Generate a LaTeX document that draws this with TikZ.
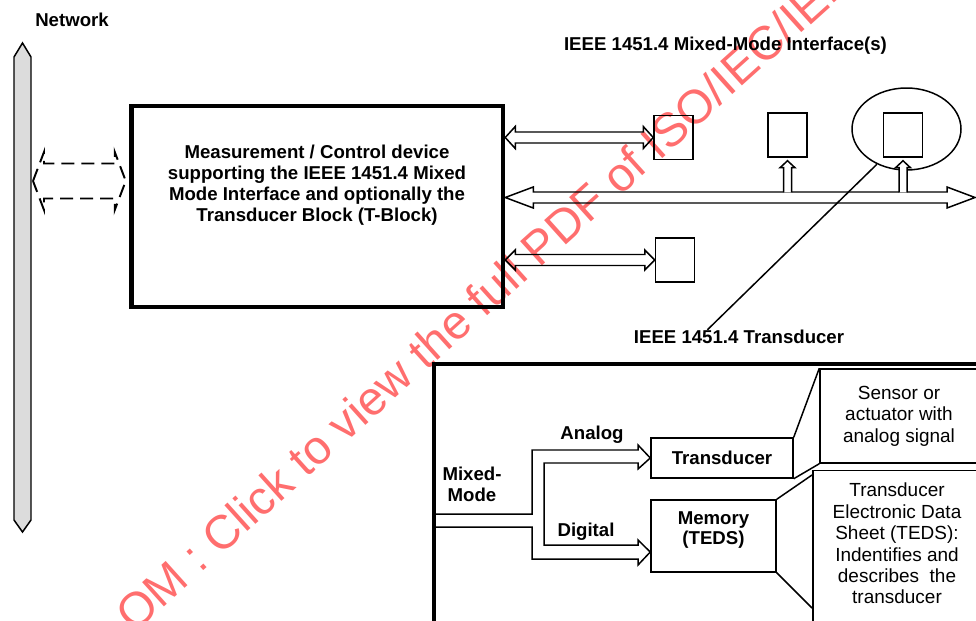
\documentclass[tikz,border=0pt]{standalone}
\usepackage{fontspec}
\setmainfont{Liberation Sans}
\usepackage{tikz}
\usetikzlibrary{
  calc,
  shapes.geometric
}
\definecolor{netgray}{RGB}{220, 220, 220}
\definecolor{wmred}{RGB}{255, 110, 110}

\newcommand{\hollowlink}[6][]{%
  \draw[hollow,#1] (#2) -- ($(#2)+(#6,-#5)$) -- ($(#2)+(#6,-#4)$)
    -- ($(#3)+(-#6,-#4)$) -- ($(#3)+(-#6,-#5)$) -- (#3)
    -- ($(#3)+(-#6,#5)$) -- ($(#3)+(-#6,#4)$)
    -- ($(#2)+(#6,#4)$) -- ($(#2)+(#6,#5)$) -- cycle;}
\newcommand{\hollowup}[6][]{%
  \draw[hollow,#1] ($(#2)+(-#4,0)$) -- ($(#3)+(-#4,#6)$) -- ($(#3)+(-#5,#6)$)
    -- (#3) -- ($(#3)+(#5,#6)$) -- ($(#3)+(#4,#6)$) -- ($(#2)+(#4,0)$);}

\begin{document}
\begin{tikzpicture}[
  x=0.02cm, y=-0.02cm,
  wire/.style={line width=0.85pt},
  hollow/.style={wire, fill=white, line join=miter},
  devbox/.style={
    draw, line width=2.6pt,
    minimum width=7.43cm, minimum height=4.02cm
  },
  smallbox/.style={
    draw, wire, inner sep=0pt,
    minimum width=0.78cm, minimum height=0.88cm
  },
  blockbox/.style={
    draw, wire, inner sep=0pt, align=center,
    font=\bfseries\fontsize{10.6}{11.9}\selectfont
  },
  notebox/.style={draw, wire, inner sep=0pt},
  lbl/.style={
    font=\bfseries\fontsize{10.6}{11.9}\selectfont,
    align=center, inner sep=0pt
  },
  note/.style={
    font=\fontsize{10.8}{12.2}\selectfont,
    align=center, inner sep=0pt
  },
  wmark/.style={font=\fontsize{27}{27}\selectfont, text=wmred, inner sep=0pt}
]
\useasboundingbox (0,0) rectangle (976,621);

\node[lbl] (nettitle) at (72,20) {Network};
\draw[wire, fill=netgray] (14,57) -- (22.5,43) -- (31,57) -- (31,520)
  -- (22.5,532) -- (14,520) -- cycle;
\coordinate (netport) at (33,181);

\node[devbox] (dev) at (317.25,206.5) {};
\node[lbl] (devtext) at (317,185) {%
  Measurement / Control device\\
  supporting the IEEE 1451.4 Mixed\\
  Mode Interface and optionally the\\
  Transducer Block (T-Block)};

\coordinate (devport) at ($(dev.west |- netport)+(-3.5,0)$);
\hollowlink[fill=none, line width=1.1pt, dash pattern=on 0.26cm off 0.14cm]{netport}{devport}{17.5}{29}{11}

\node[lbl] (mmtitle) at (725.5,46) {IEEE 1451.4 Mixed-Mode Interface(s)};

\node[smallbox] (m1) at (673.5,137.5) {};
\node[smallbox] (m2) at (787.5,135) {};
\node[smallbox] (m3) at (675,260) {};
\node[smallbox] (m4) at (903,135) {};
\node[draw, wire, ellipse, minimum width=2.18cm, minimum height=1.64cm] (ring) at (906.5,129) {};

\coordinate (d1) at (dev.east |- m1.west);
\coordinate (d3) at (dev.east |- m3.west);
\hollowlink{d1}{m1.west}{5.5}{11}{10}
\hollowlink{d3}{m3.west}{5.5}{10}{10}

\coordinate (bus) at (975,197.5);
\coordinate (busstart) at (dev.east |- bus);
\hollowlink{busstart}{bus}{5.5}{10.5}{28}

\coordinate (u2foot) at ($(m2.south |- bus)+(0,-5)$);
\coordinate (u2tip) at ($(m2.south)+(0,3)$);
\coordinate (u4foot) at ($(m4.south |- bus)+(0,-5)$);
\coordinate (u4tip) at ($(m4.south)+(0,3)$);
\hollowup{u2foot}{u2tip}{4}{7.5}{7}
\hollowup{u4foot}{u4tip}{4}{7.5}{7}

\node[lbl] (tlabel) at (739,337) {IEEE 1451.4 Transducer};
\draw[wire] (ring.230) -- ($(tlabel.north)!0.3!(tlabel.north west)$);

\node[blockbox, minimum width=2.84cm, minimum height=0.8cm] (trans) at (722,458) {Transducer};
\node[blockbox, minimum width=2.5cm, minimum height=1.44cm] (mem) at (713.5,536) {};
\node[lbl] (memtext) at ($(mem)+(0,-6)$) {Memory\\(TEDS)};
\node[notebox, note, minimum width=3.16cm, minimum height=1.88cm] (sensor) at (899,416) {%
  Sensor or\\actuator with\\analog signal};
\node[notebox, minimum width=3.32cm, minimum height=3.4cm, anchor=north west] (teds) at (812,470) {};
\node[note] (tedstext) at (897,543.5) {%
  Transducer\\Electronic Data\\Sheet (TEDS):\\Indentifies and\\describes\ \ the\\transducer};

\draw[wire] (trans.north east) -- (sensor.north west);
\draw[wire] (trans.south east) -- (sensor.south west);
\coordinate (tedstop) at ($(teds.north west)+(0,5)$);
\coordinate (tedsfoot) at ($(teds.north west)+(0,138)$);
\draw[wire] (mem.north east) -- (tedstop);
\draw[wire] (mem.south east) -- (tedsfoot);

\coordinate (digtip) at ($(mem.west)+(0,16)$);
\draw[hollow] (434,514) -- (532,514) -- (532,450) -- (638,450) -- (638,445)
  -- (trans.west) -- (638,469) -- (638,463) -- (544,463) -- (544,545)
  -- (638,545) -- (638,540) -- (digtip) -- (638,565) -- (638,559)
  -- (532,559) -- (532,527) -- (434,527);
\draw[line width=2.4pt] (434,640) -- (434,364) -- (990,364);

\node[lbl] (analog) at (592,435) {Analog};
\node[lbl] (digital) at (586,532) {Digital};
\node[lbl] (mixed) at (472,484) {Mixed-\\Mode};

\begin{scope}[blend mode=multiply]
\node[wmark, rotate=42, anchor=base west] (wm) at (134,634)
  {OM : Click to view the full PDF of ISO/IEC/IEEE 21451-4};
\end{scope}

\end{tikzpicture}
\end{document}
